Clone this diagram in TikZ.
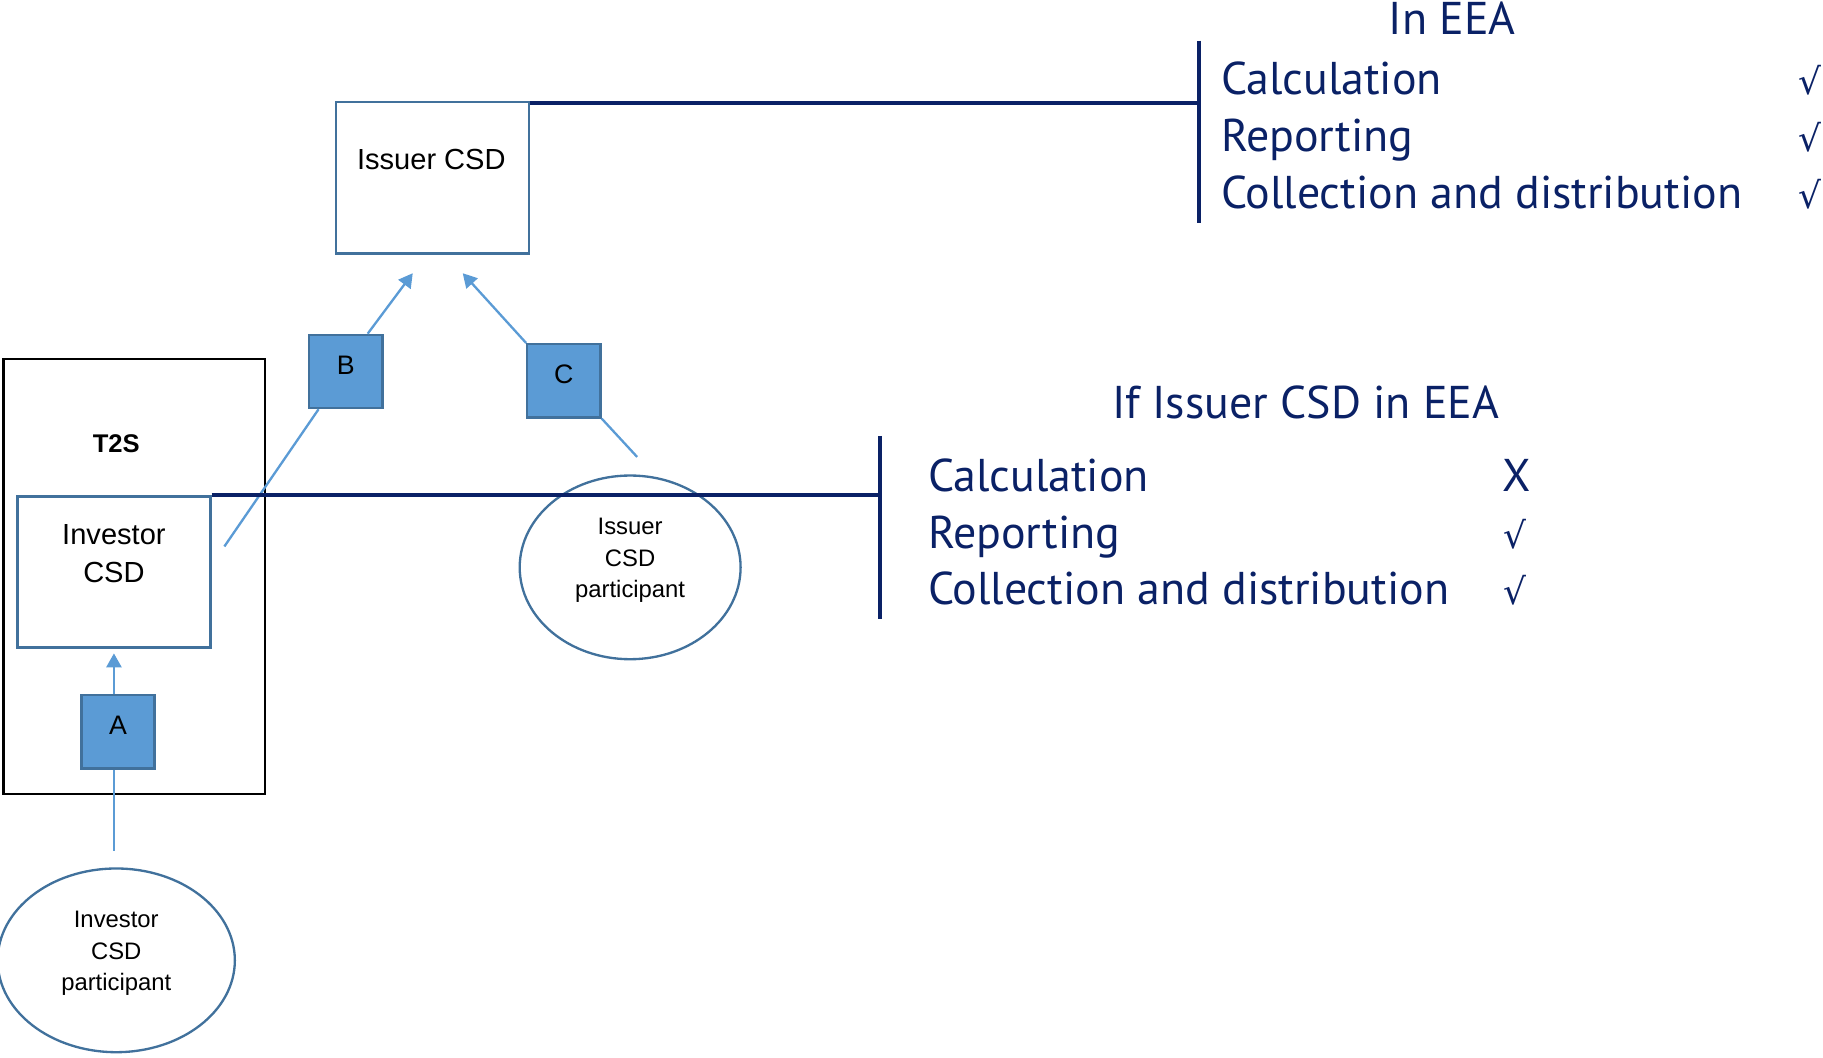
\documentclass[tikz,border=0pt]{standalone}
\usepackage{fontspec}
\setmainfont{Liberation Sans}
\newfontfamily\eeafont{PT Sans}
\newfontfamily\markfont{DejaVu Sans}
\usetikzlibrary{arrows.meta,shapes.geometric}
\definecolor{navy}{HTML}{0A2166}
\definecolor{boxline}{HTML}{41719C}
\definecolor{flowblue}{HTML}{5B9BD5}

\begin{document}
\begin{tikzpicture}[x=1pt,y=-1pt,
    csd/.style={draw=boxline,line width=2pt,minimum width=166pt,minimum height=130pt},
    party/.style={draw=boxline,line width=2pt,ellipse},
    partytext/.style={align=center,font=\fontsize{20.5}{27}\selectfont},
    flowbox/.style={draw=boxline,fill=flowblue,line width=2pt,minimum size=63pt,text depth=11pt,font=\fontsize{23}{26}\selectfont},
    flow/.style={draw=flowblue,line width=2pt},
    flowarrow/.style={flow,-{Triangle[width=13pt,length=12pt]}},
    bar/.style={draw=navy,line width=3.5pt},
    eea/.style={text=navy,font=\eeafont\fontsize{39.5}{44}\selectfont,inner sep=0pt,anchor=base west},
    tick/.style={text=navy,font=\markfont\fontsize{31}{34}\selectfont,inner sep=0pt,anchor=base west}]
    \useasboundingbox (0,0) rectangle (1568,910);
    \node[csd] (issuer) at (372,153) {};
    \node[font=\fontsize{25}{30}\selectfont] (issuertext) at (371,137) {Issuer CSD};
    \node[draw,line width=2pt,minimum width=225pt,minimum height=374pt] (t2s) at (115.5,496) {};
    \node[font=\bfseries\fontsize{22}{26}\selectfont] (t2stext) at (100,382) {T2S};
    \node[csd] (investor) at (98,492) {};
    \node[align=center,font=\fontsize{25}{33}\selectfont] (investortext) at (98,476) {Investor\\CSD};
    \node[flowbox] (a) at (101.5,629.5) {A};
    \node[flowbox] (b) at (297.5,319.5) {B};
    \node[flowbox] (c) at (485,327.5) {C};
    \node[party,minimum width=190pt,minimum height=158pt] (issuerpart) at (542,488) {};
    \node[partytext] (issuerparttext) at (542,482) {Issuer\\CSD\\participant};
    \node[party,minimum width=204pt,minimum height=158pt] (investorpart) at (100,826) {};
    \node[partytext] (investorparttext) at (100,820) {Investor\\CSD\\participant};
    \coordinate (btip) at (355,235);
    \coordinate (ctip) at (398,235);
    \coordinate (bend) at (193,470);
    \coordinate (cend) at (548,393);
    \coordinate (atip) at (98,562);
    \coordinate (aend) at (98,732);
    \draw[flowarrow] (b.60) -- (btip);
    \draw[flow] ([xshift=9pt]b.south west) -- (bend);
    \draw[flowarrow] (c.north west) -- (ctip);
    \draw[flow] (c.south east) -- (cend);
    \draw[flowarrow] (a.north -| atip) -- (atip);
    \draw[flow] (a.south -| aend) -- (aend);
    \coordinate (bartop) at (1031,35);
    \coordinate (barbot) at (1031,192);
    \coordinate (lowtop) at (757,375);
    \coordinate (lowbot) at (757,532);
    \draw[bar] (bartop) -- (barbot);
    \draw[bar] ([yshift=-1.5pt]issuer.north east) -- ([yshift=-1.5pt]issuer.north east -| bartop);
    \draw[bar] (lowtop) -- (lowbot);
    \draw[bar] (investor.north east) -- (investor.north east -| lowtop);
    \node[text=navy,font=\eeafont\fontsize{39.5}{44}\selectfont,inner sep=0pt,anchor=base] (ineea) at (1249,30) {In EEA};
    \node[eea] (calc) at (1050,81) {Calculation};
    \node[eea] (rep) at (1050,130.5) {Reporting};
    \node[eea] (coll) at (1050,179) {Collection and distribution};
    \node[tick] (calcok) at (1547,81) {√};
    \node[tick] (repok) at (1547,130.5) {√};
    \node[tick] (collok) at (1547,179) {√};
    \node[text=navy,font=\eeafont\fontsize{39.5}{44}\selectfont,inner sep=0pt,anchor=base] (ifeea) at (1123,360) {If Issuer CSD in EEA};
    \node[eea] (calcif) at (798,423) {Calculation};
    \node[eea] (repif) at (798,471.5) {Reporting};
    \node[eea] (collif) at (798,520) {Collection and distribution};
    \node[eea] (calcno) at (1292,423) {X};
    \node[tick] (repifok) at (1293,471.5) {√};
    \node[tick] (collifok) at (1293,520) {√};
\end{tikzpicture}
\end{document}
